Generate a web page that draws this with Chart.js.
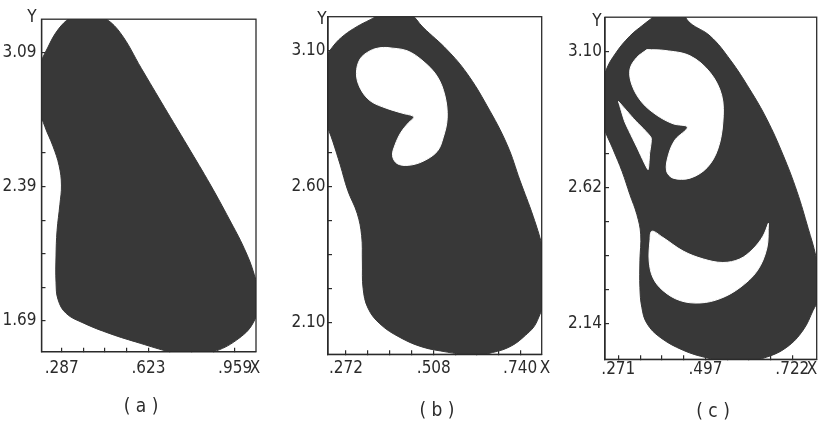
<!DOCTYPE html>
<html>
<head>
<meta charset="UTF-8">
<title>basins a b c</title>
<style>
  body { margin: 0; background: #fff; overflow: hidden; }
</style>
</head>
<body>
<script src="https://cdn.jsdelivr.net/npm/chart.js@4.4.1/dist/chart.umd.min.js"></script>
<script>
// ---- panel (a) ----
var xMajorA = [0.287, 0.623, 0.959];
var xLabelA = ['.287', '.623', '.959'];
var yMajorA = [1.69, 2.39, 3.09];
var yLabelA = ['1.69', '2.39', '3.09'];
var xRangeA = [0.2087, 1.040];
var yRangeA = [1.530, 3.262];
var basinA = [
  [0.377, 3.309], [0.447, 3.274], [0.513, 3.193], [0.596, 3.005], [0.685, 2.803],
  [0.775, 2.601], [0.864, 2.398], [0.936, 2.221], [0.994, 2.069], [1.033, 1.933],
  [1.052, 1.807], [1.029, 1.680], [0.963, 1.589], [0.874, 1.528],
  [0.792, 1.503], [0.707, 1.528], [0.591, 1.574], [0.474, 1.624], [0.370, 1.680],
  [0.304, 1.730], [0.273, 1.801], [0.265, 1.892], [0.265, 2.029], [0.269, 2.160],
  [0.280, 2.297], [0.286, 2.398], [0.277, 2.499], [0.253, 2.601], [0.222, 2.702],
  [0.187, 2.850], [0.199, 3.006], [0.234, 3.117], [0.273, 3.208], [0.319, 3.269],
  [0.377, 3.309]
];

// ---- panel (b) ----
var xMajorB = [0.272, 0.508, 0.740];
var xLabelB = ['.272', '.508', '.740'];
var yMajorB = [2.10, 2.60, 3.10];
var yLabelB = ['2.10', '2.60', '3.10'];
var xRangeB = [0.2236, 0.798];
var yRangeB = [1.983, 3.223];
var basinB = [
  [0.396, 3.248], [0.444, 3.234], [0.479, 3.184], [0.544, 3.101], [0.597, 3.015],
  [0.651, 2.896], [0.705, 2.753], [0.740, 2.620], [0.775, 2.490], [0.799, 2.383],
  [0.818, 2.268], [0.786, 2.106], [0.748, 2.045], [0.705, 2.006], [0.651, 1.984],
  [0.614, 1.966], [0.571, 1.984], [0.544, 1.991], [0.479, 2.009], [0.417, 2.045],
  [0.363, 2.095], [0.331, 2.153], [0.318, 2.225], [0.316, 2.322], [0.314, 2.419],
  [0.302, 2.501], [0.277, 2.584], [0.256, 2.681], [0.237, 2.763], [0.218, 2.842],
  [0.205, 2.968], [0.221, 3.076], [0.240, 3.119], [0.267, 3.155], [0.302, 3.187],
  [0.337, 3.212], [0.363, 3.230], [0.396, 3.248]
];
var holeB = [
  [0.382, 3.110], [0.436, 3.098], [0.479, 3.060], [0.517, 3.004], [0.538, 2.932],
  [0.544, 2.850], [0.533, 2.778], [0.517, 2.728], [0.479, 2.692], [0.439, 2.677],
  [0.409, 2.684], [0.397, 2.713], [0.404, 2.753], [0.420, 2.799], [0.439, 2.832],
  [0.454, 2.855], [0.425, 2.868], [0.382, 2.886], [0.337, 2.914], [0.310, 2.961],
  [0.300, 3.015], [0.310, 3.068], [0.337, 3.098], [0.363, 3.109], [0.382, 3.110]
];

// ---- panel (c) ----
var xMajorC = [0.271, 0.497, 0.722];
var xLabelC = ['.271', '.497', '.722'];
var yMajorC = [2.14, 2.62, 3.10];
var yLabelC = ['2.14', '2.62', '3.10'];
var xRangeC = [0.2365, 0.7852];
var yRangeC = [2.014, 3.2225];
var basinC = [
  [0.389, 3.258], [0.431, 3.244], [0.457, 3.202], [0.509, 3.156], [0.561, 3.072],
  [0.612, 2.967], [0.656, 2.862], [0.698, 2.736], [0.734, 2.607], [0.763, 2.477],
  [0.783, 2.379], [0.799, 2.257], [0.776, 2.187], [0.750, 2.117], [0.708, 2.057],
  [0.656, 2.022], [0.579, 1.998], [0.501, 2.019], [0.439, 2.046], [0.379, 2.092],
  [0.345, 2.141], [0.332, 2.197], [0.327, 2.267], [0.327, 2.362], [0.329, 2.456],
  [0.319, 2.526], [0.301, 2.596], [0.281, 2.677], [0.257, 2.757], [0.234, 2.834],
  [0.221, 2.939], [0.239, 3.034], [0.265, 3.097], [0.301, 3.156], [0.335, 3.195],
  [0.361, 3.223], [0.389, 3.258]
];
var holeC = [
  [0.345, 3.108], [0.392, 3.105], [0.457, 3.086], [0.509, 3.027], [0.539, 2.946],
  [0.542, 2.852], [0.529, 2.757], [0.501, 2.691], [0.457, 2.654], [0.413, 2.654],
  [0.396, 2.680], [0.401, 2.736], [0.418, 2.789], [0.450, 2.834], [0.413, 2.846],
  [0.371, 2.876], [0.332, 2.922], [0.307, 2.981], [0.301, 3.037], [0.318, 3.079],
  [0.345, 3.108]
];
var wedgeC = [
  [0.2715, 2.925], [0.314, 2.859], [0.356, 2.797], [0.352, 2.740], [0.348, 2.684],
  [0.319, 2.764], [0.288, 2.852], [0.2715, 2.925]
];
var crescentC = [
  [0.660, 2.4945], [0.656, 2.407], [0.631, 2.3265], [0.586, 2.267], [0.535, 2.2285],
  [0.483, 2.213], [0.431, 2.2215], [0.387, 2.2565], [0.361, 2.302], [0.351, 2.3615],
  [0.353, 2.4315], [0.358, 2.4665], [0.387, 2.444], [0.439, 2.3965], [0.491, 2.3685],
  [0.542, 2.356], [0.586, 2.3685], [0.620, 2.4035], [0.646, 2.449], [0.660, 2.4945]
];

var captions = ['( a )', '( b )', '( c )'];

//------------------------------------------------------------------------------
var ink = '#2b2b2b';
var shade = '#383838';
var paper = '#ffffff';
var fontFamily = "'Liberation Sans Narrow', 'DejaVu Sans Condensed', sans-serif";
var tickSize = 17;

// every labelled tick has three unlabelled ones between it and the next
function withMinor(majors) {
    var out = [];
    for (var i = 0; i < majors.length - 1; i++) {
        for (var k = 0; k < 4; k++) {
            out.push(majors[i] + (majors[i + 1] - majors[i]) * k / 4);
        }
    }
    out.push(majors[majors.length - 1]);
    return out;
}

function toPoints(arr) {
    return arr.map(function (p) { return {x: p[0], y: p[1]}; });
}

function labelFor(majors, labels) {
    return function (value) {
        for (var i = 0; i < majors.length; i++) {
            if (Math.abs(majors[i] - value) < 1e-6) return labels[i];
        }
        return '';
    };
}

var frame = {
    id: 'frame',
    afterDatasetsDraw: function (chart, args, opts) {
        var a = chart.chartArea, ctx = chart.ctx;
        ctx.save();
        ctx.strokeStyle = ink;
        ctx.lineWidth = 1.3;
        ctx.strokeRect(a.left, a.top, a.right - a.left, a.bottom - a.top);
        ctx.fillStyle = ink;
        ctx.textAlign = 'center';
        ctx.textBaseline = 'middle';
        ctx.font = tickSize + 'px ' + fontFamily;
        ctx.fillText('Y', opts.yMark[0] - opts.shift, opts.yMark[1]);
        ctx.fillText('X', opts.xMark[0] - opts.shift, opts.xMark[1]);
        ctx.font = '19px ' + fontFamily;
        ctx.fillText(opts.caption, opts.capPos[0] - opts.shift, opts.capPos[1]);
        ctx.restore();
    }
};

// p.box = [left, right, top, bottom] of the plot frame on the page
function makePanel(p) {
    var left = Math.floor(p.box[0]) - 46;
    var width = Math.min(818, Math.ceil(p.box[1]) + 14) - left;
    var wrap = document.createElement('div');
    wrap.style.cssText = 'position:absolute;top:0;left:' + left + 'px;width:' + width + 'px;height:424px';
    var cv = document.createElement('canvas');
    cv.width = width;
    cv.height = 424;
    wrap.appendChild(cv);
    document.body.appendChild(wrap);

    var sets = [{
        data: toPoints(p.basin), backgroundColor: shade, borderColor: shade,
        tension: 0.4, order: 2
    }];
    p.holes.forEach(function (h, i) {
        sets.push({
            data: toPoints(h), backgroundColor: paper, borderColor: paper,
            tension: p.holeTension[i], order: 1
        });
    });
    sets.forEach(function (s) {
        s.showLine = true;
        s.fill = 'shape';
        s.pointRadius = 0;
        s.borderWidth = 1;
    });

    var grid = {display: true, drawOnChartArea: false, drawTicks: true, tickLength: -4, color: ink, lineWidth: 1.2};
    var border = {display: true, color: ink, width: 1.3};
    var lineH = tickSize * 1.2;

    new Chart(cv, {
        type: 'scatter',
        data: {datasets: sets},
        plugins: [frame],
        options: {
            responsive: false,
            animation: false,
            devicePixelRatio: 1,
            layout: {padding: {
                left: p.box[0] - left - 40,
                right: left + width - p.box[1],
                top: p.box[2],
                bottom: 424 - p.box[3] - 34
            }},
            elements: {line: {capBezierPoints: false}},
            plugins: {
                legend: {display: false},
                tooltip: {enabled: false},
                frame: {shift: left, caption: p.caption, capPos: p.capPos, yMark: p.yMark, xMark: p.xMark}
            },
            scales: {
                x: {
                    type: 'linear', min: p.xRange[0], max: p.xRange[1],
                    afterBuildTicks: function (s) { s.ticks = withMinor(p.xMajor).map(function (v) { return {value: v}; }); },
                    afterFit: function (s) { s.height = 34; },
                    ticks: {
                        autoSkip: false, maxRotation: 0, color: ink,
                        font: {family: fontFamily, size: tickSize},
                        padding: p.xMark[1] - p.box[3] + 4 - lineH / 2,
                        callback: labelFor(p.xMajor, p.xLabel)
                    },
                    grid: grid, border: border
                },
                y: {
                    type: 'linear', min: p.yRange[0], max: p.yRange[1],
                    afterBuildTicks: function (s) { s.ticks = withMinor(p.yMajor).map(function (v) { return {value: v}; }); },
                    afterFit: function (s) { s.width = 40; },
                    ticks: {
                        autoSkip: false, color: ink,
                        font: {family: fontFamily, size: tickSize},
                        padding: p.yGap + 4,
                        callback: labelFor(p.yMajor, p.yLabel)
                    },
                    grid: grid, border: border
                }
            }
        }
    });
}

makePanel({
    box: [41.5, 256, 9.3, 351.7], yGap: 5,
    xRange: xRangeA, yRange: yRangeA, xMajor: xMajorA, xLabel: xLabelA, yMajor: yMajorA, yLabel: yLabelA,
    basin: basinA, holes: [], holeTension: [],
    caption: captions[0], capPos: [141, 407], yMark: [32, 18], xMark: [255, 369]
});
makePanel({
    box: [328, 541.7, 9, 354.3], yGap: 2.5,
    xRange: xRangeB, yRange: yRangeB, xMajor: xMajorB, xLabel: xLabelB, yMajor: yMajorB, yLabel: yLabelB,
    basin: basinB, holes: [holeB], holeTension: [0.35],
    caption: captions[1], capPos: [437, 411], yMark: [322, 20], xMark: [545, 369]
});
makePanel({
    box: [605, 816.7, 14, 359.3], yGap: 3,
    xRange: xRangeC, yRange: yRangeC, xMajor: xMajorC, xLabel: xLabelC, yMajor: yMajorC, yLabel: yLabelC,
    basin: basinC, holes: [holeC, wedgeC, crescentC], holeTension: [0.35, 0.15, 0.35],
    caption: captions[2], capPos: [713, 412], yMark: [597, 22], xMark: [812, 370]
});
</script>
</body>
</html>
